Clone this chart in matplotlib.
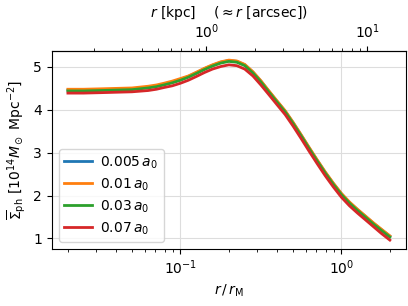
import numpy as np
import matplotlib
matplotlib.use("Agg")
import matplotlib.pyplot as plt

r = [0.020, 0.025, 0.032, 0.040, 0.050, 0.063, 0.071, 0.079, 0.089, 0.100, 0.112, 0.126,
     0.141, 0.158, 0.178, 0.200, 0.224, 0.251, 0.282, 0.316, 0.355, 0.398, 0.447, 0.501,
     0.562, 0.631, 0.708, 0.794, 0.891, 1.000, 1.122, 1.259, 1.413, 1.585, 1.778, 2.000]
sigma_003 = [4.44, 4.44, 4.45, 4.46, 4.47, 4.51, 4.54, 4.58, 4.63, 4.69, 4.76, 4.85,
             4.94, 5.02, 5.09, 5.13, 5.11, 5.03, 4.86, 4.65, 4.41, 4.18, 3.95, 3.68,
             3.39, 3.09, 2.80, 2.52, 2.26, 2.02, 1.82, 1.65, 1.49, 1.33, 1.18, 1.03]
sigma_0005 = [4.46, 4.46, 4.47, 4.48, 4.49, 4.53, 4.56, 4.60, 4.65, 4.71, 4.78, 4.87,
              4.96, 5.04, 5.11, 5.15, 5.13, 5.05, 4.88, 4.67, 4.43, 4.20, 3.97, 3.70,
              3.41, 3.11, 2.82, 2.54, 2.28, 2.04, 1.84, 1.67, 1.51, 1.35, 1.20, 1.05]
sigma_001 = [4.48, 4.48, 4.49, 4.50, 4.51, 4.55, 4.58, 4.62, 4.67, 4.73, 4.79, 4.88,
             4.97, 5.05, 5.12, 5.16, 5.14, 5.06, 4.89, 4.68, 4.44, 4.21, 3.98, 3.71,
             3.42, 3.12, 2.83, 2.55, 2.29, 2.05, 1.85, 1.68, 1.52, 1.36, 1.21, 1.06]
sigma_007 = [4.39, 4.39, 4.40, 4.41, 4.42, 4.45, 4.48, 4.52, 4.56, 4.62, 4.69, 4.78,
             4.87, 4.95, 5.01, 5.05, 5.03, 4.95, 4.79, 4.58, 4.35, 4.12, 3.89, 3.62,
             3.33, 3.03, 2.74, 2.46, 2.20, 1.96, 1.76, 1.59, 1.43, 1.27, 1.11, 0.96]
labels = [r"$0.005\,a_0$", r"$0.01\,a_0$", r"$0.03\,a_0$", r"$0.07\,a_0$"]
colors = ["#1f77b4", "#ff7f0e", "#2ca02c", "#d62728"]
kpc_per_rM = 6.9
top_ticks = [1, 10]

fig = plt.figure(figsize=(4.08, 3.06), dpi=100)
ax = fig.add_axes([0.127, 0.186, 0.868, 0.647])
for s, lab, c in zip([sigma_0005, sigma_001, sigma_003, sigma_007], labels, colors):
    ax.plot(r, s, color=c, lw=2, label=lab)
ax.set_xscale("log")
ax.grid(True, color="#dddddd", lw=0.8)
ax.set_xlabel(r"$r\,/\,r_{\rm M}$")
ax.set_ylabel(r"$\overline{\Sigma}_{\rm ph}$ [$10^{14}M_\odot$ Mpc$^{-2}$]")
ax.set_yticks([1, 2, 3, 4, 5])
ax.legend(loc="lower left", handletextpad=0.6, labelspacing=0.4)
sec = ax.secondary_xaxis("top", functions=(lambda x: x * kpc_per_rM, lambda x: x / kpc_per_rM))
sec.set_xticks(top_ticks, [r"$10^{0}$", r"$10^{1}$"])
sec.set_xlabel(r"$r$ [kpc]    $(\approx r$ [arcsec]$)$")
fig.savefig("out.png", dpi=100)
